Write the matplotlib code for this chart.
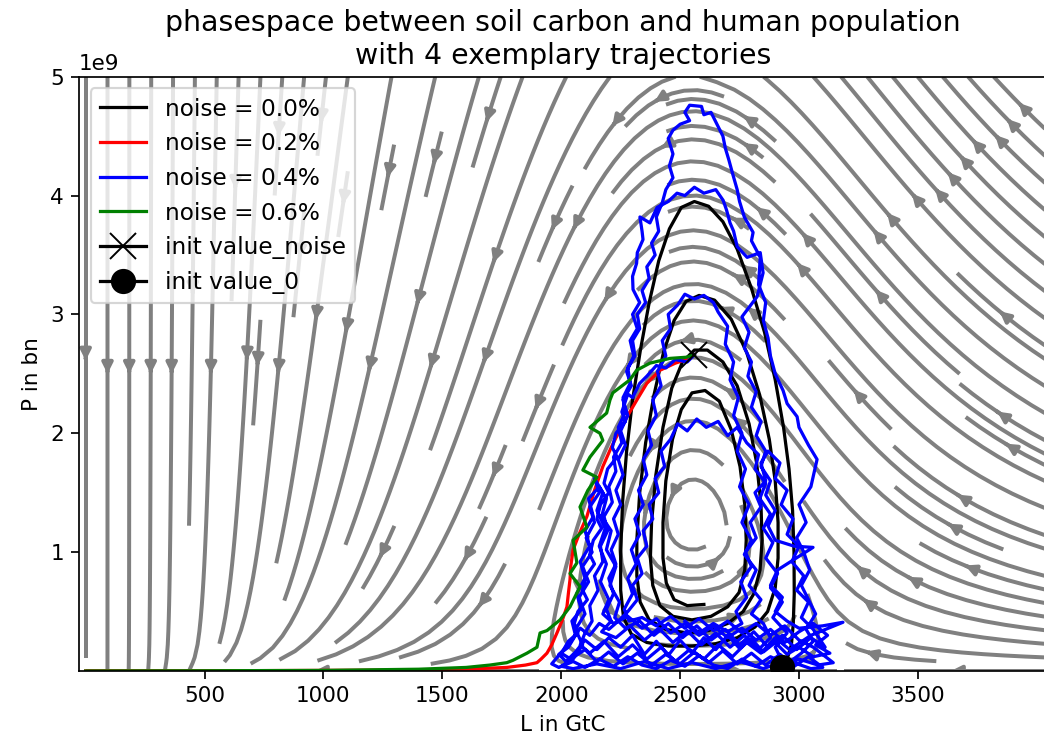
import numpy as np
import matplotlib.pyplot as plt

# vector field of the soil carbon / population model (L in GtC, P in people)
r = 20.0          # regrowth rate of soil carbon
L_crit = 1900.0   # collapse threshold of soil carbon
K = 3150.0        # carrying capacity of soil carbon
a = 1e-9          # consumption per person
b = 0.012         # population response to soil carbon
L_eq = 2555.0     # soil carbon where population is stationary
L_half = 1100.0   # soil carbon where turnover reaches half speed

# trajectories: (L in GtC, P in bn)
init_0 = (2927, 0.03)
init_noise = (2560, 2.66)

black_path = [
    (2927, 0.03), (2950, 0.10), (2968, 0.22), (2976, 0.40), (2980, 0.65), (2979, 1.00),
    (2973, 1.35), (2958, 1.70), (2935, 2.05), (2900, 2.45), (2855, 2.85), (2800, 3.22),
    (2740, 3.55), (2680, 3.78), (2620, 3.91), (2560, 3.95), (2505, 3.90), (2455, 3.72),
    (2410, 3.45), (2370, 3.10), (2333, 2.70), (2300, 2.28), (2275, 1.85), (2258, 1.42),
    (2250, 1.00), (2250, 0.68), (2262, 0.45), (2295, 0.31), (2360, 0.24), (2450, 0.21),
    (2550, 0.21), (2650, 0.23), (2740, 0.28), (2815, 0.37), (2868, 0.50),
    (2900, 0.70), (2912, 0.95), (2912, 1.25), (2900, 1.60), (2875, 1.95), (2835, 2.32),
    (2780, 2.68), (2715, 2.96), (2645, 3.12), (2580, 3.16), (2525, 3.11), (2475, 2.95),
    (2430, 2.68), (2390, 2.32), (2355, 1.92), (2330, 1.50), (2318, 1.10), (2318, 0.80),
    (2332, 0.58), (2370, 0.43), (2440, 0.35), (2530, 0.32), (2620, 0.34), (2700, 0.40),
    (2765, 0.50), (2810, 0.65),
    (2836, 0.85), (2845, 1.10), (2840, 1.40), (2822, 1.75), (2790, 2.08), (2740, 2.40),
    (2680, 2.60), (2615, 2.70), (2560, 2.70), (2510, 2.60), (2465, 2.38), (2428, 2.05),
    (2398, 1.65), (2380, 1.25), (2375, 0.95), (2385, 0.72), (2415, 0.55), (2470, 0.46),
    (2550, 0.43), (2630, 0.46), (2700, 0.54), (2748, 0.66),
    (2772, 0.85), (2778, 1.10), (2772, 1.40), (2752, 1.72), (2715, 2.03), (2665, 2.27),
    (2605, 2.36), (2550, 2.34), (2505, 2.20), (2468, 1.95), (2440, 1.60), (2428, 1.25),
    (2428, 0.95), (2442, 0.74), (2475, 0.60), (2530, 0.55), (2600, 0.56),
]

red_path = [
    (2560, 2.66), (2541, 2.63), (2480, 2.59), (2415, 2.53), (2360, 2.42), (2318, 2.28),
    (2280, 2.15), (2247, 2.03), (2210, 1.88), (2175, 1.72), (2140, 1.52), (2108, 1.30),
    (2075, 1.15), (2050, 1.02), (2040, 0.88), (2037, 0.77), (2030, 0.65), (2024, 0.54),
    (2005, 0.43), (1982, 0.32), (1960, 0.22), (1940, 0.15), (1915, 0.10), (1898, 0.07),
    (1850, 0.05), (1771, 0.03), (1650, 0.02), (1500, 0.012), (1300, 0.008), (1000, 0.005),
    (700, 0.003), (400, 0.002), (100, 0.001), (0, 0.001),
]

green_path = [
    (2560, 2.66), (2527, 2.64), (2457, 2.63), (2373, 2.59), (2317, 2.53), (2289, 2.45),
    (2217, 2.34), (2205, 2.28), (2191, 2.17), (2121, 2.05), (2163, 2.00), (2175, 1.94),
    (2121, 1.80), (2091, 1.69), (2150, 1.63), (2112, 1.52), (2079, 1.38), (2108, 1.21),
    (2050, 1.10), (2066, 0.91), (2037, 0.82), (2079, 0.71), (2037, 0.54), (1995, 0.43),
    (1940, 0.34), (1911, 0.32), (1898, 0.20), (1856, 0.15), (1797, 0.09), (1771, 0.07),
    (1700, 0.05), (1600, 0.03), (1400, 0.015), (1000, 0.005), (500, 0.002), (0, 0.0),
]

blue_path = [
    # down the left edge from the noisy start
    (2560, 2.66), (2530, 2.60), (2480, 2.62), (2440, 2.55), (2400, 2.57), (2360, 2.48),
    (2330, 2.42), (2300, 2.30), (2280, 2.33), (2255, 2.18), (2270, 2.10), (2230, 2.00),
    (2215, 1.88), (2235, 1.80), (2195, 1.70), (2180, 1.58), (2200, 1.50), (2165, 1.40),
    (2150, 1.28), (2170, 1.20), (2135, 1.10), (2120, 0.98), (2140, 0.90), (2105, 0.80),
    (2090, 0.68), (2110, 0.60), (2070, 0.50), (2055, 0.40), (2070, 0.32), (2030, 0.25),
    (2010, 0.18), (1985, 0.12), (1960, 0.06), (1990, 0.03),
    (2050, 0.08), (2100, 0.03), (2160, 0.10), (2220, 0.04), (2280, 0.12), (2340, 0.05),
    (2400, 0.02), (2460, 0.09), (2520, 0.04), (2580, 0.13), (2640, 0.05), (2700, 0.02),
    (2760, 0.10), (2820, 0.04), (2880, 0.12), (2950, 0.06), (3010, 0.15),
    (3060, 0.25), (3030, 0.35), (3070, 0.48), (3040, 0.60), (3010, 0.72), (3045, 0.85),
    (3020, 1.00), (2990, 1.12), (3030, 1.25), (3000, 1.40), (3050, 1.55), (3076, 1.78),
    (3040, 1.90), (3000, 2.05), (2992, 2.14), (2950, 2.25), (2933, 2.36), (2900, 2.50),
    (2880, 2.65), (2870, 2.80), (2850, 2.95), (2860, 3.10), (2830, 3.25), (2837, 3.48),
    (2800, 3.62), (2807, 3.69), (2770, 3.82), (2750, 3.95), (2740, 4.05), (2720, 4.19),
    (2705, 4.30), (2690, 4.40), (2680, 4.50), (2650, 4.62), (2630, 4.70), (2600, 4.68),
    (2590, 4.75), (2540, 4.76), (2520, 4.70), (2540, 4.63), (2500, 4.60), (2470, 4.55),
    (2450, 4.48), (2470, 4.35), (2455, 4.25), (2470, 4.15), (2440, 4.05), (2425, 3.94),
    (2400, 3.82), (2410, 3.70), (2380, 3.60), (2395, 3.50), (2360, 3.40), (2370, 3.30),
    (2340, 3.20), (2355, 3.10), (2320, 3.00), (2330, 2.88), (2300, 2.78), (2310, 2.65),
    (2280, 2.55), (2290, 2.42), (2260, 2.30), (2270, 2.18), (2240, 2.05), (2255, 1.92),
    (2220, 1.80), (2230, 1.68), (2200, 1.55), (2215, 1.42), (2180, 1.30), (2195, 1.18),
    (2165, 1.05), (2175, 0.92), (2140, 0.80), (2155, 0.68), (2120, 0.55), (2130, 0.42),
    (2100, 0.32), (2080, 0.22),
    (2120, 0.15), (2180, 0.25), (2240, 0.12), (2300, 0.22), (2360, 0.10), (2420, 0.20),
    (2480, 0.08), (2540, 0.18), (2600, 0.10), (2660, 0.22), (2720, 0.12), (2780, 0.24),
    (2840, 0.15), (2900, 0.28), (2960, 0.18), (3050, 0.30), (3185, 0.41), (3100, 0.38),
    (3000, 0.36), (2950, 0.42),
    (2900, 0.50), (2930, 0.62), (2880, 0.72), (2910, 0.85), (3059, 1.04), (2980, 1.05),
    (2900, 1.10), (2870, 1.22), (2900, 1.35), (2860, 1.48), (2880, 1.60), (2840, 1.72),
    (2860, 1.85), (2820, 1.98), (2840, 2.10), (2800, 2.22), (2820, 2.35), (2785, 2.48),
    (2800, 2.60), (2770, 2.72), (2790, 2.85), (2760, 2.98), (2824, 3.15), (2849, 3.35),
    (2837, 3.52), (2782, 3.48), (2740, 3.57), (2725, 3.70), (2710, 3.77), (2695, 3.88),
    (2681, 3.96), (2650, 4.05), (2600, 4.02), (2560, 4.07), (2520, 4.00), (2487, 4.02),
    (2450, 3.95),
    (2403, 3.90), (2373, 3.77), (2331, 3.82), (2340, 3.70), (2344, 3.63), (2320, 3.52),
    (2317, 3.43), (2300, 3.32), (2302, 3.21), (2330, 3.10), (2300, 3.00), (2320, 2.88),
    (2290, 2.78), (2305, 2.65), (2275, 2.52), (2295, 2.40), (2260, 2.28), (2280, 2.15),
    (2250, 2.02), (2270, 1.90), (2240, 1.78), (2260, 1.65), (2230, 1.52), (2250, 1.40),
    (2220, 1.28), (2240, 1.15), (2210, 1.02), (2230, 0.90), (2200, 0.78), (2220, 0.65),
    (2190, 0.52), (2210, 0.42), (2170, 0.33),
    (2230, 0.28), (2290, 0.38), (2350, 0.26), (2410, 0.36), (2470, 0.24), (2530, 0.34),
    (2590, 0.22), (2650, 0.32), (2710, 0.20), (2770, 0.30), (2830, 0.18), (2880, 0.28),
    (2850, 0.40), (2800, 0.48), (2840, 0.60), (2790, 0.72), (2820, 0.85), (2770, 0.98),
    (2800, 1.10), (2760, 1.25), (2790, 1.40), (2750, 1.55), (2775, 1.70), (2740, 1.85),
    (2760, 2.00), (2725, 2.15), (2745, 2.30), (2710, 2.45), (2725, 2.60), (2690, 2.75),
    (2700, 2.90), (2660, 3.02), (2640, 3.10), (2600, 3.16), (2560, 3.13), (2520, 3.17),
    (2490, 3.08),
    (2450, 3.00), (2460, 2.88), (2425, 2.78), (2440, 2.65), (2405, 2.52), (2420, 2.40),
    (2385, 2.28), (2400, 2.15), (2365, 2.02), (2380, 1.90), (2345, 1.78), (2360, 1.65),
    (2325, 1.52), (2345, 1.40), (2310, 1.28), (2330, 1.15), (2295, 1.02), (2315, 0.90),
    (2280, 0.78), (2300, 0.65), (2265, 0.52), (2285, 0.42),
    (2340, 0.45), (2400, 0.38), (2460, 0.46), (2520, 0.36), (2580, 0.44), (2640, 0.34),
    (2700, 0.42), (2760, 0.32), (2820, 0.40), (2880, 0.30), (2940, 0.38), (3000, 0.26),
    (3060, 0.20), (3144, 0.07), (3080, 0.05), (3000, 0.10), (2940, 0.04),
    (2900, 0.20), (2950, 0.32), (2890, 0.45), (2930, 0.58), (2880, 0.70), (2910, 0.82),
    (2860, 0.95), (2890, 1.08),
    (2850, 1.20), (2880, 1.32), (2835, 1.45), (2860, 1.58), (2815, 1.70), (2830, 1.82),
    (2780, 1.92), (2740, 2.05), (2700, 1.98), (2660, 2.10), (2610, 2.05), (2570, 2.12),
    (2530, 2.02), (2490, 2.08), (2460, 1.95), (2420, 1.85), (2435, 1.72), (2395, 1.62),
    (2410, 1.50), (2370, 1.40), (2385, 1.28), (2345, 1.18), (2360, 1.05), (2320, 0.95),
    (2340, 0.82), (2300, 0.72), (2320, 0.60), (2280, 0.50), (2240, 0.42), (2200, 0.35),
    (2160, 0.40), (2120, 0.30), (2080, 0.36), (2040, 0.25), (2000, 0.15), (2040, 0.10),
    (2100, 0.18), (2150, 0.08), (2200, 0.16), (2260, 0.06), (2320, 0.15), (2380, 0.05),
    (2440, 0.14), (2500, 0.06), (2560, 0.16), (2620, 0.07), (2680, 0.17), (2740, 0.06),
    (2800, 0.15), (2860, 0.05), (2920, 0.14), (2980, 0.04), (3040, 0.12), (3100, 0.03),
    (3050, 0.02), (2950, 0.09), (2850, 0.02), (2750, 0.08), (2650, 0.02), (2550, 0.07),
    (2450, 0.02), (2350, 0.08), (2250, 0.02), (2150, 0.06), (2050, 0.02), (2000, 0.04),
    (2050, 0.10), (2090, 0.22), (2060, 0.35), (2100, 0.48), (2075, 0.62), (2115, 0.75),
    (2090, 0.88), (2130, 1.00), (2105, 1.12), (2140, 1.25), (2120, 1.38), (2160, 1.50),
    (2140, 1.62), (2175, 1.50), (2150, 1.35), (2185, 1.20), (2160, 1.05), (2190, 0.90),
    (2165, 0.75), (2200, 0.60), (2175, 0.48), (2220, 0.40), (2280, 0.46), (2340, 0.36),
    (2400, 0.44), (2460, 0.32), (2520, 0.40), (2580, 0.30), (2640, 0.38), (2700, 0.28),
    (2760, 0.36), (2820, 0.26), (2880, 0.35), (2940, 0.24), (3000, 0.33), (3060, 0.40),
    (3120, 0.30), (3070, 0.22), (3130, 0.15), (3060, 0.12),
    (3000, 0.20), (2950, 0.14), (2900, 0.24), (2850, 0.16), (2800, 0.27), (2750, 0.19),
    (2700, 0.30), (2650, 0.18), (2600, 0.28), (2550, 0.15), (2500, 0.26), (2450, 0.13),
    (2400, 0.25), (2350, 0.14), (2300, 0.30), (2250, 0.20), (2200, 0.28), (2150, 0.18),
    (2100, 0.26), (2060, 0.16), (2020, 0.08), (1990, 0.14), (2030, 0.20),
    (2060, 0.30), (2045, 0.42), (2085, 0.52), (2065, 0.65), (2100, 0.78), (2080, 0.92),
    (2120, 1.05), (2100, 1.18), (2135, 1.30), (2115, 1.45), (2160, 1.55), (2190, 1.45),
    (2170, 1.30), (2210, 1.18), (2190, 1.02), (2230, 0.88), (2205, 0.72), (2245, 0.58),
    (2225, 0.45),
    (2270, 0.36), (2330, 0.42), (2390, 0.30), (2450, 0.40), (2510, 0.28), (2570, 0.38),
    (2630, 0.26), (2690, 0.35), (2750, 0.22), (2810, 0.33), (2870, 0.20), (2930, 0.30),
    (2990, 0.18), (3050, 0.28), (3110, 0.20),
    (3060, 0.35), (3010, 0.45), (3040, 0.58), (2990, 0.68), (3020, 0.80), (2970, 0.92),
    (3000, 1.05), (2950, 1.15), (2975, 1.28), (2925, 1.40), (2950, 1.52), (2900, 1.62),
    (2920, 1.75), (2870, 1.85),
    (2840, 1.75), (2860, 1.60), (2815, 1.50), (2840, 1.38), (2795, 1.25), (2820, 1.12),
    (2775, 1.00), (2800, 0.88), (2755, 0.75), (2780, 0.62), (2735, 0.50), (2760, 0.40),
    (2700, 0.33), (2640, 0.40), (2580, 0.32), (2520, 0.42),
]

x_ticks = [500, 1000, 1500, 2000, 2500, 3000, 3500]
y_ticks = [1e9, 2e9, 3e9, 4e9, 5e9]


def to_xy(path):
    L = np.array([p[0] for p in path], dtype=float)
    P = np.array([p[1] for p in path], dtype=float) * 1e9
    return L, P


L_range = np.linspace(0, 4043, 200)
P_range = np.linspace(0, 5e9, 200)
LL, PP = np.meshgrid(L_range, P_range)
turnover = LL**3 / (LL**3 + L_half**3)
dL = turnover * (r * LL * (LL / L_crit - 1) * (1 - LL / K) - a * LL * PP)
dP = b * PP * (LL - L_eq)

dpi = 155
fig = plt.figure(figsize=(1044 / dpi, 738 / dpi), dpi=dpi)
ax = fig.add_axes([79 / 1044, 1 - 671 / 738, 968 / 1044, (671 - 76.7) / 738])

ax.streamplot(LL, PP, dL, dP, color='gray', linewidth=1.85, density=1.5, arrowsize=1)

colors = ['k', 'r', 'b', 'g']
labels = ['noise = 0.0%', 'noise = 0.2%', 'noise = 0.4%', 'noise = 0.6%']
paths = [black_path, red_path, blue_path, green_path]
for path, c, lab in zip(paths, colors, labels):
    L, P = to_xy(path)
    ax.plot(L, P, color=c, label=lab)

ax.plot(init_noise[0], init_noise[1] * 1e9, 'kx-', ms=12.5, mew=0.9, label='init value_noise')
ax.plot(init_0[0], init_0[1] * 1e9, 'ko-', ms=10.7, label='init value_0')

ax.set_xlim(-28, 4043)
ax.set_ylim(0, 5e9)
ax.set_xticks(x_ticks)
ax.set_yticks(y_ticks)
ax.set_xlabel('L in GtC')
ax.set_ylabel('P in bn')
ax.set_title('phasespace between soil carbon and human population\nwith 4 exemplary trajectories',
             fontsize=13.2)
ax.legend(loc='upper left', fontsize=10.8)

fig.savefig('out.png', dpi=dpi)
